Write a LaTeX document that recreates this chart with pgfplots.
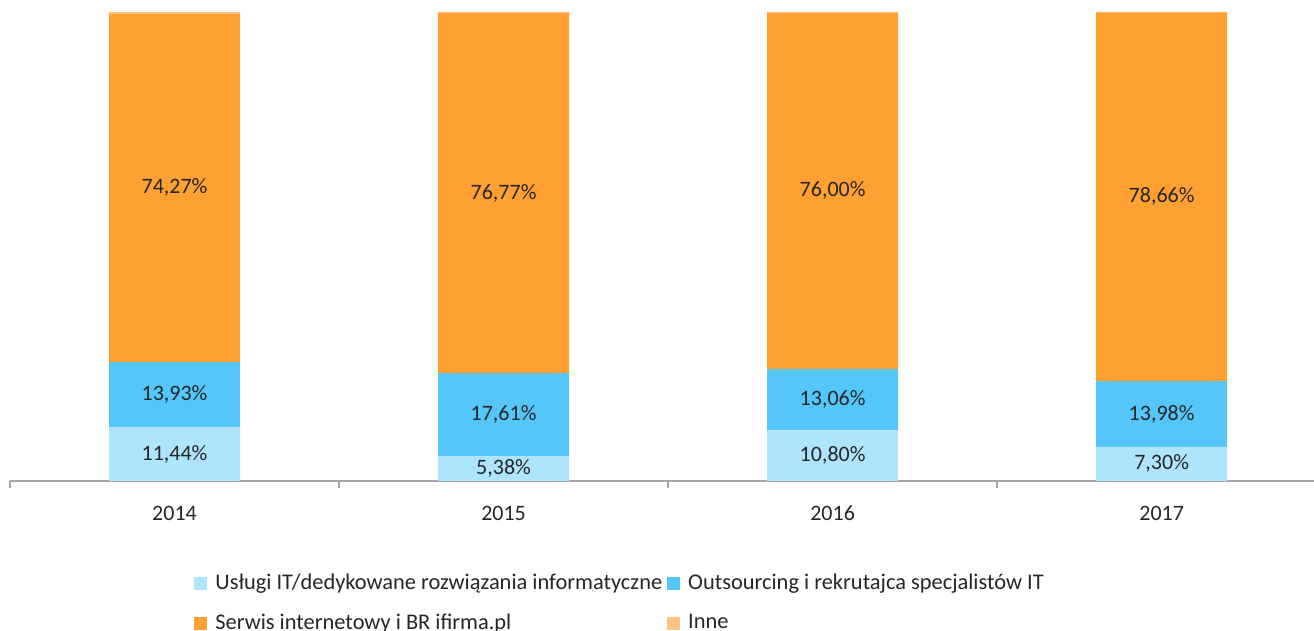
\documentclass[border=0pt]{standalone}
\usepackage{fontspec}
\setmainfont{Carlito}
\usepackage{pgfplots}
\pgfplotsset{compat=1.18}
\definecolor{cA}{HTML}{AEE4FC}
\definecolor{cB}{HTML}{55C6FA}
\definecolor{cC}{HTML}{FFA033}
\definecolor{cD}{HTML}{FFC285}
\definecolor{txt}{HTML}{262626}
\definecolor{axl}{HTML}{A6A6A6}
\begin{document}
\begin{tikzpicture}
\path[use as bounding box] (0pt,0pt) rectangle (657pt,315.5pt);
\begin{axis}[
  at={(5pt,75pt)}, anchor=south west,
  scale only axis, width=652pt, height=234.5pt,
  ybar stacked, bar width=65.5pt,
  xmin=-0.5, xmax=3.463, ymin=0, ymax=100,
  hide y axis,
  axis x line*=bottom,
  x axis line style={draw=axl, line width=0.8pt, -},
  xtick={0,1,2,3}, xticklabels={2014,2015,2016,2017},
  minor xtick={-0.5,0.5,1.5,2.5},
  major tick length=0pt, minor tick length=3.5pt,
  every tick/.style={draw=axl, line width=0.8pt},
  tick align=outside,
  xticklabel style={font=\fontsize{11}{13}\selectfont, text=txt, yshift=-9pt},
  /pgf/number format/assume math mode=true,
  /pgf/number format/.cd, use comma, fixed, fixed zerofill, precision=2,
  /pgfplots/.cd,
  every node near coord/.append style={anchor=center, font=\fontsize{11}{13}\selectfont, text=txt},
  legend style={at={(0,0)}, anchor=north west, xshift=92pt, yshift=-44.5pt, draw=none, font=\fontsize{11.2}{13.5}\selectfont, text=txt, row sep=6.5pt, inner sep=0pt},
  legend columns=2,
  legend cell align=left,
  /tikz/every even column/.append style={column sep=0.5pt},
  legend image code/.code={\fill[#1] (0pt,-3.25pt) rectangle (6.5pt,3.25pt); \path (8.5pt,0pt);},
]
\addplot+[draw=none, fill=cA, nodes near coords={\pgfmathprintnumber{\pgfplotspointmeta}\%}] coordinates {(0,11.44) (1,5.38) (2,10.80) (3,7.30)};
\addlegendentry{Usługi IT/dedykowane rozwiązania informatyczne}
\addplot+[draw=none, fill=cB, nodes near coords={\pgfmathprintnumber{\pgfplotspointmeta}\%}] coordinates {(0,13.93) (1,17.61) (2,13.06) (3,13.98)};
\addlegendentry{Outsourcing i rekrutajca specjalistów IT}
\addplot+[draw=none, fill=cC, nodes near coords={\pgfmathprintnumber{\pgfplotspointmeta}\%}] coordinates {(0,74.27) (1,76.77) (2,76.00) (3,78.66)};
\addlegendentry{Serwis internetowy i BR ifirma.pl}
\addplot+[draw=none, fill=cD] coordinates {(0,0.36) (1,0.24) (2,0.14) (3,0.06)};
\addlegendentry{Inne}
\end{axis}
\end{tikzpicture}
\end{document}
